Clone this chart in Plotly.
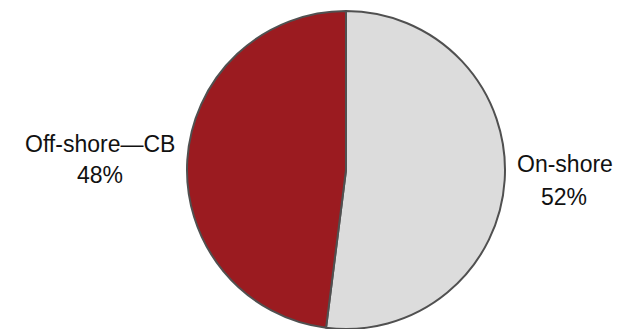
import plotly.graph_objects as go

categories = ["On-shore", "Off-shore—CB"]
values = [52, 48]
colors = ["#DCDCDC", "#9B1B20"]

W, H = 619, 329
fig = go.Figure()
fig.add_trace(go.Pie(
    labels=categories,
    values=values,
    sort=False,
    direction="clockwise",
    rotation=0,
    marker=dict(colors=colors, line=dict(color="#505050", width=2)),
    textinfo="none",
    hoverinfo="label+percent",
    showlegend=False,
    domain=dict(x=[186 / W, 506 / W], y=[0, 1 - 11 / H]),
))

# label positions (pixels: name center, percent center)
label_pos = {
    "On-shore": ((565, 163.5), (564, 196.5)),
    "Off-shore—CB": ((100, 143.5), (100, 175)),
}
font = dict(family="Liberation Sans, Arial, sans-serif", size=23, color="#111111")
for cat, val in zip(categories, values):
    (nx, ny), (px, py) = label_pos[cat]
    fig.add_annotation(text=cat, x=nx / W, y=1 - ny / H, xref="paper", yref="paper",
                       xanchor="center", yanchor="middle", showarrow=False, font=font)
    fig.add_annotation(text=f"{val}%", x=px / W, y=1 - py / H, xref="paper", yref="paper",
                       xanchor="center", yanchor="middle", showarrow=False, font=font)

fig.update_layout(
    width=W, height=H,
    margin=dict(l=0, r=0, t=0, b=0),
    paper_bgcolor="white",
    plot_bgcolor="white",
)
fig.write_html("out.html")
